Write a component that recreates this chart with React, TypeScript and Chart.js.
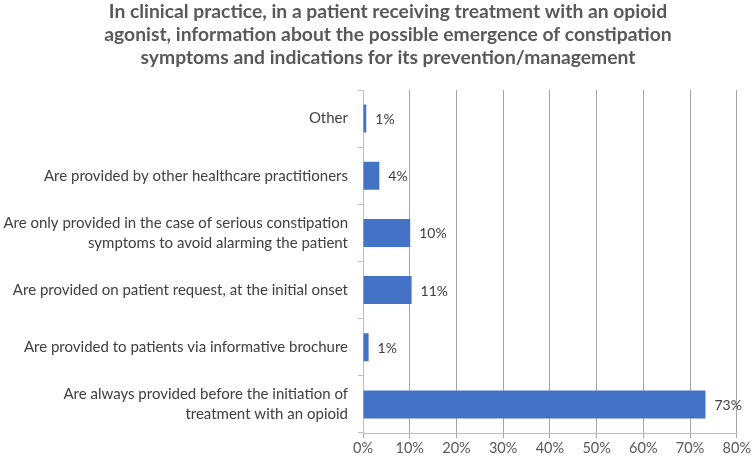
import React, { useEffect, useRef } from "react";
import { Chart, registerables } from "chart.js";

Chart.register(...registerables);

const titleLines = [
  "In clinical practice, in a patient receiving treatment with an opioid",
  "agonist, information about the possible emergence of constipation",
  "symptoms and indications for its prevention/management",
];

const categories: (string | string[])[] = [
  "Other",
  "Are provided by other healthcare practitioners",
  ["Are only provided in the case of serious constipation", "symptoms to avoid alarming the patient"],
  "Are provided on patient request, at the initial onset",
  "Are provided to patients via informative brochure",
  ["Are always provided before the initiation of", "treatment with an opioid"],
];

const values = [0.7, 3.5, 10.1, 10.4, 1.2, 73.3];
const valueLabels = ["1%", "4%", "10%", "11%", "1%", "73%"];

const FONT = "Lato, 'Open Sans', sans-serif";

const titlePlugin = {
  id: "customTitle",
  afterDraw(chart: any) {
    const ctx = chart.ctx;
    ctx.save();
    ctx.fillStyle = "#595959";
    ctx.font = `bold 19.3px ${FONT}`;
    ctx.textAlign = "center";
    ctx.textBaseline = "middle";
    titleLines.forEach((l, i) => ctx.fillText(l, 388, 12 + i * 23));
    ctx.restore();
  },
};

const valueLabelPlugin = {
  id: "valueLabels",
  afterDatasetsDraw(chart: any) {
    const ctx = chart.ctx;
    const meta = chart.getDatasetMeta(0);
    ctx.save();
    ctx.fillStyle = "#404040";
    ctx.font = `14px ${FONT}`;
    ctx.textAlign = "left";
    ctx.textBaseline = "middle";
    meta.data.forEach((bar: any, i: number) => {
      ctx.fillText(valueLabels[i], bar.x + 9, bar.y + 1);
    });
    ctx.restore();
  },
};

export default function App() {
  const ref = useRef<HTMLCanvasElement>(null);
  useEffect(() => {
    if (!ref.current) return;
    const chart = new Chart(ref.current, {
      type: "bar",
      data: {
        labels: categories,
        datasets: [
          {
            data: values,
            backgroundColor: "#4472C4",
            borderWidth: 0,
            barPercentage: 0.49,
            categoryPercentage: 1,
          },
        ],
      },
      options: {
        indexAxis: "y",
        animation: false,
        responsive: false,
        maintainAspectRatio: false,
        layout: { padding: { top: 90, right: 14, bottom: 0, left: 0 } },
        plugins: {
          legend: { display: false },
          title: { display: false },
          tooltip: { enabled: false },
        },
        scales: {
          x: {
            min: 0,
            max: 80,
            ticks: {
              stepSize: 10,
              callback: (v: any) => v + "%",
              color: "#595959",
              font: { family: FONT, size: 14.5 },
              padding: 2,
            },
            grid: {
              color: "#a6a6a6",
              lineWidth: 1,
              tickLength: 5,
              drawTicks: true,
            },
            border: { color: "#bfbfbf" },
            afterFit: (s: any) => {
              s.height = 25;
            },
          },
          y: {
            ticks: {
              color: "#404040",
              font: { family: FONT, size: 15, lineHeight: 1.35 },
              padding: 10,
            },
            grid: {
              drawOnChartArea: false,
              tickLength: 5,
              color: "#bfbfbf",
              offset: true,
            },
            border: { color: "#bfbfbf" },
            afterFit: (s: any) => {
              s.width = 363;
            },
          },
        },
      },
      plugins: [titlePlugin, valueLabelPlugin],
    } as any);
    return () => chart.destroy();
  }, []);
  return (
    <div style={{ position: "fixed", left: 0, top: 0, width: 753, height: 458, background: "#fff" }}>
      <canvas ref={ref} width={753} height={458} style={{ width: 753, height: 458 }} />
    </div>
  );
}
